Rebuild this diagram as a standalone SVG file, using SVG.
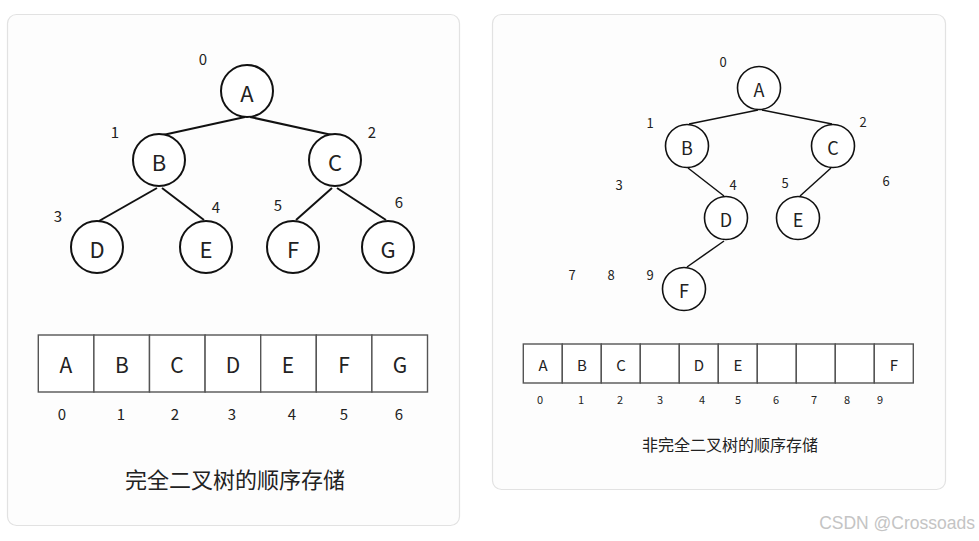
<svg xmlns="http://www.w3.org/2000/svg" width="979" height="541" viewBox="0 0 979 541">
<style>
text{font-family:"Noto Sans CJK SC","Noto Sans",sans-serif;fill:#222;text-anchor:middle;dominant-baseline:central}
.panel{fill:#fdfdfd;stroke:#e2e2e2;stroke-width:1.2}
.nl{fill:#fff;stroke:#111;stroke-width:2}
.nr{fill:#fff;stroke:#111;stroke-width:1.6}
.el{stroke:#111;stroke-width:2;fill:none}
.er{stroke:#111;stroke-width:1.5;fill:none}
.cell{fill:#fff;stroke:#555;stroke-width:1.4}
.L{font-size:22px}
.Lr{font-size:18px}
.idx{font-size:15px}
.idxr{font-size:13px}
.cl{font-size:21px}
.cr{font-size:15px}
.ai{font-size:15px}
.air{font-size:11px}
</style>
<rect width="979" height="541" fill="#fff"/>
<rect class="panel" x="7.5" y="14.5" width="452" height="511" rx="9"/>
<rect class="panel" x="492.5" y="14.5" width="453" height="475" rx="9"/>

<g id="connectors">
<line class="el" x1="245" y1="117" x2="163" y2="135"/>
<line class="el" x1="250" y1="117" x2="332" y2="135"/>
<line class="el" x1="157" y1="188" x2="99" y2="221"/>
<line class="el" x1="162" y1="188" x2="204" y2="220"/>
<line class="el" x1="332" y1="188" x2="296" y2="220"/>
<line class="el" x1="337" y1="188" x2="386" y2="220"/>
<line class="er" x1="758" y1="110" x2="689" y2="124"/>
<line class="er" x1="762" y1="110" x2="832" y2="124"/>
<line class="er" x1="688" y1="168" x2="724" y2="196"/>
<line class="er" x1="831" y1="168" x2="800" y2="196"/>
<line class="er" x1="724" y1="241" x2="687" y2="267"/>
</g>

<g id="L-A"><circle class="nl" cx="247" cy="91" r="26"/><text class="L" x="247" y="91.5">A</text></g>
<g id="L-B"><circle class="nl" cx="159" cy="160" r="26"/><text class="L" x="159" y="160.5">B</text></g>
<g id="L-C"><circle class="nl" cx="335" cy="160" r="26"/><text class="L" x="335" y="160.5">C</text></g>
<g id="L-D"><circle class="nl" cx="97" cy="247" r="26"/><text class="L" x="97" y="247.5">D</text></g>
<g id="L-E"><circle class="nl" cx="206" cy="247" r="26"/><text class="L" x="206" y="247.5">E</text></g>
<g id="L-F"><circle class="nl" cx="293" cy="247" r="26"/><text class="L" x="293" y="247.5">F</text></g>
<g id="L-G"><circle class="nl" cx="388" cy="247" r="26"/><text class="L" x="388" y="247.5">G</text></g>

<g id="L-tree-idx">
<text class="idx" x="203" y="58.5">0</text>
<text class="idx" x="115" y="131.5">1</text>
<text class="idx" x="372" y="131.5">2</text>
<text class="idx" x="58" y="215.5">3</text>
<text class="idx" x="216" y="206.5">4</text>
<text class="idx" x="278" y="204.5">5</text>
<text class="idx" x="399" y="201.5">6</text>
</g>

<g id="L-array">
<rect class="cell" x="38.3" y="335" width="55.6" height="57"/>
<rect class="cell" x="93.9" y="335" width="55.6" height="57"/>
<rect class="cell" x="149.5" y="335" width="55.6" height="57"/>
<rect class="cell" x="205.1" y="335" width="55.6" height="57"/>
<rect class="cell" x="260.7" y="335" width="55.6" height="57"/>
<rect class="cell" x="316.3" y="335" width="55.6" height="57"/>
<rect class="cell" x="371.9" y="335" width="55.6" height="57"/>
<text class="cl" x="66" y="364">A</text>
<text class="cl" x="122" y="364">B</text>
<text class="cl" x="177" y="364">C</text>
<text class="cl" x="233" y="364">D</text>
<text class="cl" x="288" y="364">E</text>
<text class="cl" x="344" y="364">F</text>
<text class="cl" x="400" y="364">G</text>
<text class="ai" x="62" y="413.5">0</text>
<text class="ai" x="121" y="413.5">1</text>
<text class="ai" x="175" y="413.5">2</text>
<text class="ai" x="232" y="413.5">3</text>
<text class="ai" x="292" y="413.5">4</text>
<text class="ai" x="344" y="413.5">5</text>
<text class="ai" x="399" y="413.5">6</text>
</g>
<text id="L-title" x="235" y="478" style="font-size:22px">完全二叉树的顺序存储</text>

<g id="R-A"><circle class="nr" cx="759" cy="88" r="21.5"/><text class="Lr" x="759" y="88.5">A</text></g>
<g id="R-B"><circle class="nr" cx="687" cy="146" r="21.5"/><text class="Lr" x="687" y="146.5">B</text></g>
<g id="R-C"><circle class="nr" cx="833" cy="146" r="21.5"/><text class="Lr" x="833" y="146.5">C</text></g>
<g id="R-D"><circle class="nr" cx="726" cy="218" r="21.5"/><text class="Lr" x="726" y="218.5">D</text></g>
<g id="R-E"><circle class="nr" cx="798" cy="218" r="21.5"/><text class="Lr" x="798" y="218.5">E</text></g>
<g id="R-F"><circle class="nr" cx="684" cy="289" r="21.5"/><text class="Lr" x="684" y="289.5">F</text></g>

<g id="R-tree-idx">
<text class="idxr" x="723" y="61">0</text>
<text class="idxr" x="650" y="122">1</text>
<text class="idxr" x="863" y="121">2</text>
<text class="idxr" x="619" y="184">3</text>
<text class="idxr" x="733" y="184">4</text>
<text class="idxr" x="785" y="182">5</text>
<text class="idxr" x="886" y="180">6</text>
<text class="idxr" x="572" y="274">7</text>
<text class="idxr" x="611" y="274">8</text>
<text class="idxr" x="650" y="274">9</text>
</g>

<g id="R-array">
<rect class="cell" x="523.3" y="344" width="39" height="39"/>
<rect class="cell" x="562.3" y="344" width="39" height="39"/>
<rect class="cell" x="601.3" y="344" width="39" height="39"/>
<rect class="cell" x="640.3" y="344" width="39" height="39"/>
<rect class="cell" x="679.3" y="344" width="39" height="39"/>
<rect class="cell" x="718.3" y="344" width="39" height="39"/>
<rect class="cell" x="757.3" y="344" width="39" height="39"/>
<rect class="cell" x="796.3" y="344" width="39" height="39"/>
<rect class="cell" x="835.3" y="344" width="39" height="39"/>
<rect class="cell" x="874.3" y="344" width="39" height="39"/>
<text class="cr" x="543" y="364">A</text>
<text class="cr" x="582" y="364">B</text>
<text class="cr" x="621" y="364">C</text>
<text class="cr" x="699" y="364">D</text>
<text class="cr" x="738" y="364">E</text>
<text class="cr" x="894" y="364">F</text>
<text class="air" x="540" y="399">0</text>
<text class="air" x="581" y="399">1</text>
<text class="air" x="620" y="399">2</text>
<text class="air" x="660" y="399">3</text>
<text class="air" x="702" y="399">4</text>
<text class="air" x="738" y="399">5</text>
<text class="air" x="776" y="399">6</text>
<text class="air" x="814" y="399">7</text>
<text class="air" x="847" y="399">8</text>
<text class="air" x="880" y="399">9</text>
</g>
<text id="R-title" x="730" y="444" style="font-size:16px">非完全二叉树的顺序存储</text>

<text x="975" y="523" style="font-family:'Liberation Sans',Arial,sans-serif;font-size:17.5px;fill:#c4c4c4;text-anchor:end">CSDN @Crossoads</text>
</svg>
